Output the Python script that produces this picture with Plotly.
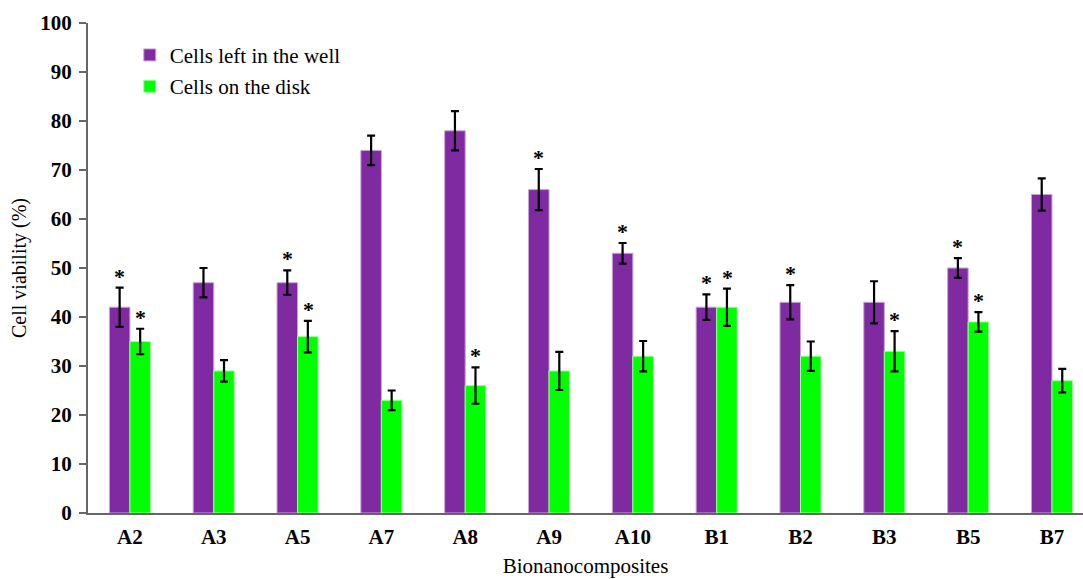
import plotly.graph_objects as go

categories = ["A2", "A3", "A5", "A7", "A8", "A9", "A10", "B1", "B2", "B3", "B5", "B7"]

well_values = [42, 47, 47, 74, 78, 66, 53, 42, 43, 43, 50, 65]
well_errors = [4.0, 3.0, 2.5, 3.0, 4.0, 4.2, 2.1, 2.6, 3.5, 4.3, 2.0, 3.3]
well_signif = [True, False, True, False, False, True, True, True, True, False, True, False]

disk_values = [35, 29, 36, 23, 26, 29, 32, 42, 32, 33, 39, 27]
disk_errors = [2.6, 2.2, 3.2, 2.0, 3.7, 3.9, 3.1, 3.8, 3.0, 4.1, 2.0, 2.4]
disk_signif = [True, False, True, False, True, False, False, True, False, True, True, False]

y_ticks = [0, 10, 20, 30, 40, 50, 60, 70, 80, 90, 100]

PURPLE = "#7F2AA0"
GREEN = "#00FF00"
SERIF = "Liberation Serif"

fig = go.Figure()

fig.add_trace(go.Bar(
    name="Cells left in the well", x=categories, y=well_values, legendgroup="well",
    marker=dict(color=PURPLE, line=dict(color="#C7A4D6", width=1)),
    error_y=dict(type="data", array=well_errors, color="black", thickness=2.2, width=4),
))
fig.add_trace(go.Bar(
    name="Cells on the disk", x=categories, y=disk_values, legendgroup="disk",
    marker=dict(color=GREEN, line=dict(color="#9CFF9C", width=1)),
    error_y=dict(type="data", array=disk_errors, color="black", thickness=2.2, width=4),
))

# significance markers above the error bars
annotations = []
for series_vals, series_errs, series_sig, shift in (
    (well_values, well_errors, well_signif, -10.5),
    (disk_values, disk_errors, disk_signif, 10.5),
):
    for cat, v, e, s in zip(categories, series_vals, series_errs, series_sig):
        if s:
            annotations.append(dict(
                x=cat, y=v + e, text="<b>*</b>", showarrow=False,
                xshift=shift, yshift=-3, yanchor="bottom",
                font=dict(family=SERIF, size=22, color="black"),
            ))

fig.update_layout(
    width=1083, height=579,
    margin=dict(l=88, r=0, t=23, b=66),
    paper_bgcolor="white", plot_bgcolor="white",
    barmode="group", bargap=0.51, bargroupgap=0,
    showlegend=True,
    legend=dict(
        x=0.042, y=0.976, xanchor="left", yanchor="top",
        font=dict(family=SERIF, size=21, color="black"),
        bgcolor="rgba(0,0,0,0)", itemwidth=30, tracegroupgap=1,
    ),
    annotations=annotations,
    xaxis=dict(
        range=[-0.5, 11.37], showgrid=False,
        showline=True, linecolor="#666666", linewidth=2,
        ticks="outside", ticklen=4, tickcolor="rgba(0,0,0,0)",
        tickvals=categories, ticktext=[f"<b>{c}</b>" for c in categories],
        tickfont=dict(family=SERIF, size=21, color="black"),
        title=dict(text="Bionanocomposites", font=dict(family=SERIF, size=21, color="black"), standoff=10),
    ),
    yaxis=dict(
        range=[0, 100], tickvals=y_ticks, ticktext=[f"<b>{t}</b>" for t in y_ticks],
        showgrid=False, zeroline=False,
        showline=True, linecolor="#666666", linewidth=2,
        ticks="outside", ticklen=7, tickwidth=2, tickcolor="#666666",
        ticklabelstandoff=3,
        tickfont=dict(family=SERIF, size=21, color="black"),
        title=dict(text="Cell viability (%)", font=dict(family=SERIF, size=20, color="black"), standoff=8),
    ),
)

fig.write_html("out.html")
